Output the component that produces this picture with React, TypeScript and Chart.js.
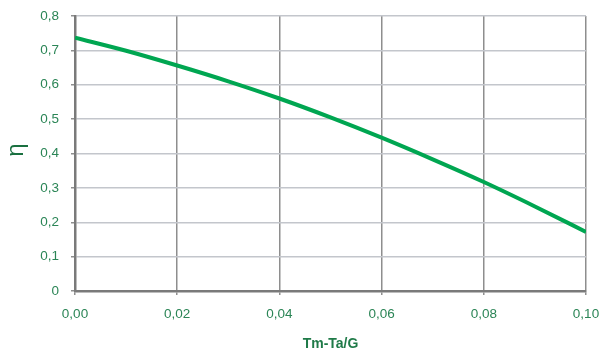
import React, { useEffect, useRef } from "react";
import { Chart, registerables } from "chart.js";

Chart.register(...registerables);

const xValues = [0, 0.01, 0.02, 0.03, 0.04, 0.05, 0.06, 0.07, 0.08, 0.09, 0.1];
const etaValues = [0.737, 0.699, 0.656, 0.61, 0.56, 0.505, 0.446, 0.383, 0.317, 0.246, 0.172];
const xTitle = "Tm-Ta/G";
const yTitle = " η";

const FONT = "'Liberation Sans', Arial, sans-serif";
const TICK_GREEN = "#2b8556";

export default function App() {
  const ref = useRef<HTMLCanvasElement | null>(null);

  useEffect(() => {
    if (!ref.current) return;
    const chart = new Chart(ref.current, {
      type: "line",
      data: {
        datasets: [
          {
            data: xValues.map((x, i) => ({ x, y: etaValues[i] })),
            borderColor: "#00a651",
            borderWidth: 4,
            pointRadius: 0,
            cubicInterpolationMode: "monotone",
            fill: false,
          },
        ],
      },
      options: {
        responsive: false,
        animation: false,
        layout: { padding: { top: 16, right: 14, left: 0, bottom: 0 } },
        plugins: { legend: { display: false }, tooltip: { enabled: false } },
        scales: {
          x: {
            type: "linear",
            min: 0,
            max: 0.1,
            afterFit: (s: any) => {
              s.height = 59;
              s.paddingLeft = 0;
              s.paddingRight = 0;
            },
            ticks: {
              stepSize: 0.02,
              padding: 11,
              color: TICK_GREEN,
              font: { family: FONT, size: 13.5 },
              callback: (v: any) => Number(v).toFixed(2).replace(".", ","),
            },
            grid: { color: "#8e8e8e", lineWidth: 1.5, tickLength: 4, tickColor: "#8e8e8e" },
            border: { color: "#7a7a7a", width: 2.5 },
            title: {
              display: true,
              text: xTitle,
              color: "#1f7a48",
              font: { family: FONT, size: 14, weight: "bold", lineHeight: 0.8 },
              padding: { top: 0, bottom: 0 },
            },
          },
          y: {
            min: 0,
            max: 0.8,
            afterFit: (s: any) => {
              s.width = 75;
              s.paddingTop = 0;
              s.paddingBottom = 0;
            },
            ticks: {
              stepSize: 0.1,
              padding: 12,
              color: TICK_GREEN,
              font: { family: FONT, size: 13.5 },
              callback: (v: any) => (Number(v) === 0 ? "0" : Number(v).toFixed(1).replace(".", ",")),
            },
            grid: { color: "#c3c6cc", lineWidth: 1.5, tickLength: 4, tickColor: "#8e8e8e" },
            border: { color: "#7a7a7a", width: 2.5 },
            title: {
              display: true,
              text: yTitle,
              color: "#1a7040",
              font: { family: FONT, size: 24, lineHeight: 1 },
              padding: { top: 4, bottom: 0 },
            },
          },
        },
      },
    });
    return () => chart.destroy();
  }, []);

  return (
    <div style={{ position: "absolute", left: 0, top: 0, width: 600, height: 350, background: "#fff" }}>
      <canvas ref={ref} width={600} height={350} />
    </div>
  );
}
